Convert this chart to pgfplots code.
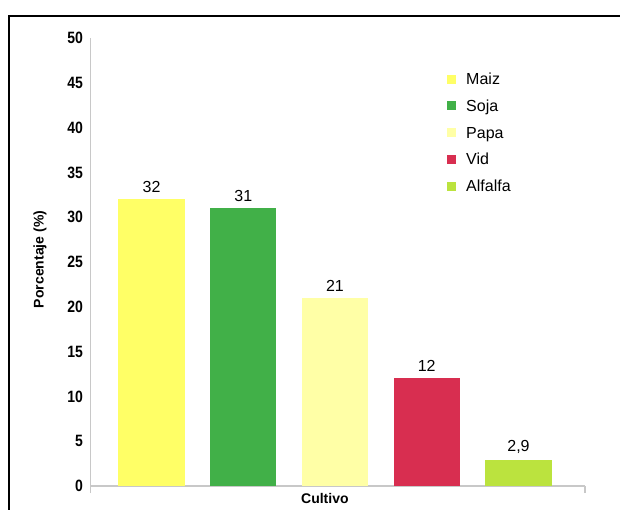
\documentclass[border=0pt]{standalone}
\usepackage{fontspec}
\setmainfont{Liberation Sans}
\usepackage{graphicx}
\usepackage{pgfplots}
\pgfplotsset{compat=1.18}

\definecolor{maiz}{RGB}{255,255,102}
\definecolor{soja}{RGB}{65,176,72}
\definecolor{papa}{RGB}{255,255,166}
\definecolor{vid}{RGB}{216,46,80}
\definecolor{alfalfa}{RGB}{187,227,62}
\definecolor{axgray}{RGB}{200,200,200}

\newcommand{\smallfont}{\fontsize{14pt}{16.8pt}\selectfont}
\newcommand{\largefont}{\fontsize{16pt}{19.2pt}\selectfont}

\begin{document}
\begin{tikzpicture}[x=1pt,y=1pt,font=\smallfont]
\useasboundingbox (0,0) rectangle (620,509);
% outer frame (left and top edges)
\draw[line width=2pt] (9,-10) -- (9,493) -- (640,493);
\begin{axis}[
  at={(90.5pt,23pt)}, anchor=south west,
  scale only axis, width=494.5pt, height=448pt,
  xmin=-0.665, xmax=4.725, ymin=0, ymax=50,
  ybar, bar shift=0pt, bar width=0.72,
  axis lines*=left,
  axis line style={draw=axgray, line width=1.5pt},
  tick align=outside, major tick length=7pt,
  xtick={-0.665,4.725}, xticklabels={},
  xtick style={draw=axgray, line width=1.2pt},
  ytick={0,5,...,50},
  ytick style={draw=none},
  yticklabel={\scalebox{1}[1.17]{\bfseries\pgfmathprintnumber{\tick}}},
  yticklabel style={font=\smallfont, xshift=3pt},
  /pgf/number format/assume math mode=true,
  /pgf/number format/use comma,
  nodes near coords,
  every node near coord/.append style={text=black, font=\largefont, yshift=3pt},
  ylabel={\bfseries Porcentaje (\%)},
  ylabel style={font=\smallfont, at={(axis description cs:-0.102,0.5056)}, anchor=center},
  xlabel={\bfseries Cultivo},
  xlabel style={font=\smallfont, at={(axis description cs:0.474,-0.0268)}, anchor=center},
  legend image code/.code={\fill[#1] (0pt,-2.95pt) rectangle (9pt,6.05pt);},
  legend cell align=left,
  legend style={at={(axis description cs:0.721,0.9219)}, anchor=north west,
    font=\largefont,
    draw=none, fill=none, inner sep=0pt, row sep=11.75pt,
    nodes={inner sep=0pt, text height=11.5pt, text depth=3.5pt},
    /tikz/every odd column/.append style={column sep=10pt}},
]
\addplot[fill=maiz, draw=none] coordinates {(0,32)};
\addplot[fill=soja, draw=none] coordinates {(1,31)};
\addplot[fill=papa, draw=none] coordinates {(2,21)};
\addplot[fill=vid, draw=none] coordinates {(3,12)};
\addplot[fill=alfalfa, draw=none] coordinates {(4,2.9)};
\legend{Maiz,Soja,Papa,Vid,Alfalfa}
\end{axis}
\end{tikzpicture}
\end{document}
